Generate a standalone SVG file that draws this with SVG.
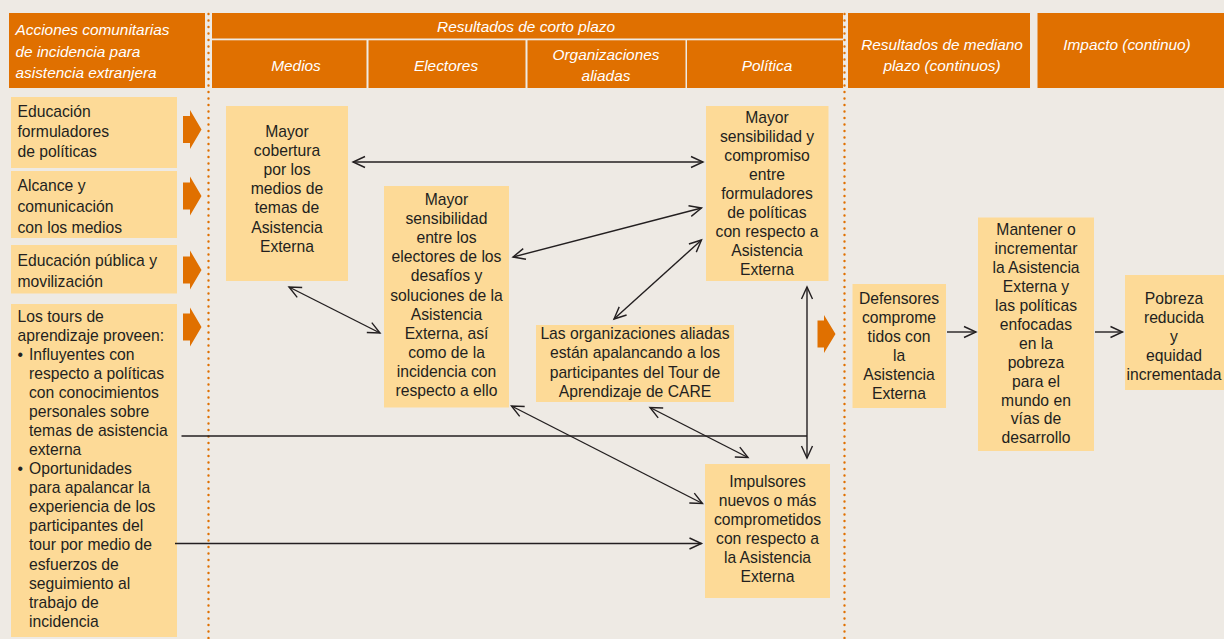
<svg xmlns="http://www.w3.org/2000/svg" width="1224" height="639" viewBox="0 0 1224 639">
<style>
.hdr{fill:#E07000}
.box{fill:#FDDA97}
.ht{font-family:"Liberation Sans",Arial,sans-serif;font-style:italic;font-size:15.4px;fill:#FFFFFF}
.t{font-family:"Liberation Sans",Arial,sans-serif;font-size:15.7px;fill:#231F20}
.c{text-anchor:middle}
.dot{stroke:#E07000;stroke-width:2.4;stroke-linecap:round;stroke-dasharray:0.1 6.4;fill:none}
.ln{stroke:#231F20;stroke-width:1.4;fill:none}
.ar{fill:#E07000}
</style>
<defs>
<marker id="ah" markerUnits="userSpaceOnUse" markerWidth="16" markerHeight="14" viewBox="-13 -7 16 14" refX="0" refY="0" orient="auto-start-reverse">
<path d="M-12,-5.5 L0,0 L-12,5.5" fill="none" stroke="#231F20" stroke-width="1.4"/>
</marker>
</defs>
<rect x="0" y="0" width="1224" height="639" fill="#EEEAE4"/>

<g id="headers">
<rect class="hdr" x="9" y="13" width="196" height="75"/>
<text class="ht"><tspan x="15.5" y="35">Acciones comunitarias</tspan><tspan x="15.5" y="56.7">de incidencia para</tspan><tspan x="15.5" y="78.3">asistencia extranjera</tspan></text>
<rect class="hdr" x="212" y="13" width="631" height="25.5"/>
<text class="ht c" x="526" y="32.3">Resultados de corto plazo</text>
<rect class="hdr" x="212" y="40.3" width="154.5" height="47.7"/>
<text class="ht c" x="296" y="71">Medios</text>
<rect class="hdr" x="368.5" y="40.3" width="157" height="47.7"/>
<text class="ht c" x="446" y="71">Electores</text>
<rect class="hdr" x="527.5" y="40.3" width="158" height="47.7"/>
<text class="ht c"><tspan x="606" y="60">Organizaciones</tspan><tspan x="606" y="81.3">aliadas</tspan></text>
<rect class="hdr" x="687" y="40.3" width="156" height="47.7"/>
<text class="ht c" x="767" y="71">Política</text>
<rect class="hdr" x="848" y="13" width="182" height="75"/>
<text class="ht c"><tspan x="942" y="50">Resultados de mediano</tspan><tspan x="942" y="71">plazo (continuos)</tspan></text>
<rect class="hdr" x="1037.5" y="13" width="186.5" height="75"/>
<text class="ht c" x="1127" y="50">Impacto (continuo)</text>
</g>

<g id="dividers">
<line class="dot" x1="208.5" y1="14" x2="208.5" y2="639"/>
<line class="dot" x1="844.5" y1="14" x2="844.5" y2="639"/>
</g>

<g id="left-actions">
<g id="n-educacion-formuladores">
<rect class="box" x="11" y="97" width="166" height="71"/>
<text class="t"><tspan x="17.5" y="117">Educación</tspan><tspan x="17.5" y="137">formuladores</tspan><tspan x="17.5" y="157">de políticas</tspan></text>
</g>
<g id="n-alcance">
<rect class="box" x="11" y="171" width="166" height="67"/>
<text class="t"><tspan x="17.5" y="191">Alcance y</tspan><tspan x="17.5" y="212">comunicación</tspan><tspan x="17.5" y="232.5">con los medios</tspan></text>
</g>
<g id="n-educacion-publica">
<rect class="box" x="11" y="245" width="166" height="48.5"/>
<text class="t"><tspan x="17.5" y="266">Educación pública y</tspan><tspan x="17.5" y="286.5">movilización</tspan></text>
</g>
<g id="n-tours">
<rect class="box" x="11" y="304" width="166" height="333"/>
<text class="t">
<tspan x="17.5" y="321.7">Los tours de</tspan>
<tspan x="17.5" y="340.8">aprendizaje proveen:</tspan>
<tspan x="17.5" y="359.8">•</tspan><tspan x="29" y="359.8">Influyentes con</tspan>
<tspan x="29" y="378.9">respecto a políticas</tspan>
<tspan x="29" y="397.9">con conocimientos</tspan>
<tspan x="29" y="417">personales sobre</tspan>
<tspan x="29" y="436">temas de asistencia</tspan>
<tspan x="29" y="455.1">externa</tspan>
<tspan x="17.5" y="474.2">•</tspan><tspan x="29" y="474.2">Oportunidades</tspan>
<tspan x="29" y="493.2">para apalancar la</tspan>
<tspan x="29" y="512.3">experiencia de los</tspan>
<tspan x="29" y="531.3">participantes del</tspan>
<tspan x="29" y="550.4">tour por medio de</tspan>
<tspan x="29" y="569.5">esfuerzos de</tspan>
<tspan x="29" y="588.5">seguimiento al</tspan>
<tspan x="29" y="607.6">trabajo de</tspan>
<tspan x="29" y="626.7">incidencia</tspan>
</text>
</g>
</g>

<g id="orange-arrows">
<polygon class="ar" points="183,116 190,116 190,110 201.5,129.5 190,149 190,143 183,143"/>
<polygon class="ar" points="183,182.5 190,182.5 190,176.5 201.5,196 190,215.5 190,209.5 183,209.5"/>
<polygon class="ar" points="183,256.5 190,256.5 190,250.5 201.5,270 190,289.5 190,283.5 183,283.5"/>
<polygon class="ar" points="183,313.5 190,313.5 190,307.5 201.5,327 190,346.5 190,340.5 183,340.5"/>
<polygon class="ar" points="817.5,320.5 824,320.5 824,315 835.5,334 824,353 824,347.5 817.5,347.5"/>
</g>

<g id="n-medios">
<rect class="box" x="226" y="106" width="122" height="175"/>
<text class="t c"><tspan x="287" y="137">Mayor</tspan><tspan x="287" y="156.1">cobertura</tspan><tspan x="287" y="175.2">por los</tspan><tspan x="287" y="194.3">medios de</tspan><tspan x="287" y="213.4">temas de</tspan><tspan x="287" y="232.5">Asistencia</tspan><tspan x="287" y="251.6">Externa</tspan></text>
</g>

<g id="n-electores">
<rect class="box" x="384" y="186" width="125" height="221.5"/>
<text class="t c"><tspan x="446.5" y="205">Mayor</tspan><tspan x="446.5" y="224.1">sensibilidad</tspan><tspan x="446.5" y="243.2">entre los</tspan><tspan x="446.5" y="262.3">electores de los</tspan><tspan x="446.5" y="281.4">desafíos y</tspan><tspan x="446.5" y="300.5">soluciones de la</tspan><tspan x="446.5" y="319.6">Asistencia</tspan><tspan x="446.5" y="338.7">Externa, así</tspan><tspan x="446.5" y="357.8">como de la</tspan><tspan x="446.5" y="376.9">incidencia con</tspan><tspan x="446.5" y="396">respecto a ello</tspan></text>
</g>

<g id="n-politica">
<rect class="box" x="706" y="106" width="122.5" height="175"/>
<text class="t c"><tspan x="767" y="122.7">Mayor</tspan><tspan x="767" y="141.7">sensibilidad y</tspan><tspan x="767" y="160.8">compromiso</tspan><tspan x="767" y="179.8">entre</tspan><tspan x="767" y="198.9">formuladores</tspan><tspan x="767" y="217.9">de políticas</tspan><tspan x="767" y="236.9">con respecto a</tspan><tspan x="767" y="256">Asistencia</tspan><tspan x="767" y="275">Externa</tspan></text>
</g>

<g id="n-organizaciones">
<rect class="box" x="536" y="325" width="198" height="77"/>
<text class="t c"><tspan x="635" y="339.3">Las organizaciones aliadas</tspan><tspan x="635" y="358.4">están apalancando a los</tspan><tspan x="635" y="377.5">participantes del Tour de</tspan><tspan x="635" y="396.6">Aprendizaje de CARE</tspan></text>
</g>

<g id="n-impulsores">
<rect class="box" x="705" y="464" width="125" height="134"/>
<text class="t c"><tspan x="767.5" y="487.3">Impulsores</tspan><tspan x="767.5" y="506.3">nuevos o más</tspan><tspan x="767.5" y="525.3">comprometidos</tspan><tspan x="767.5" y="544.3">con respecto a</tspan><tspan x="767.5" y="563.3">la Asistencia</tspan><tspan x="767.5" y="582.3">Externa</tspan></text>
</g>

<g id="n-defensores">
<rect class="box" x="852.5" y="284" width="93.5" height="124"/>
<text class="t c"><tspan x="899" y="304.3">Defensores</tspan><tspan x="899" y="323.2">comprome</tspan><tspan x="899" y="342.2">tidos con</tspan><tspan x="899" y="361.1">la</tspan><tspan x="899" y="380.1">Asistencia</tspan><tspan x="899" y="399">Externa</tspan></text>
</g>

<g id="n-mantener">
<rect class="box" x="978" y="217.5" width="116" height="233.5"/>
<text class="t c"><tspan x="1036" y="235">Mantener o</tspan><tspan x="1036" y="253.9">incrementar</tspan><tspan x="1036" y="272.9">la Asistencia</tspan><tspan x="1036" y="291.8">Externa y</tspan><tspan x="1036" y="310.8">las políticas</tspan><tspan x="1036" y="329.7">enfocadas</tspan><tspan x="1036" y="348.6">en la</tspan><tspan x="1036" y="367.6">pobreza</tspan><tspan x="1036" y="386.5">para el</tspan><tspan x="1036" y="405.5">mundo en</tspan><tspan x="1036" y="424.4">vías de</tspan><tspan x="1036" y="443.3">desarrollo</tspan></text>
</g>

<g id="n-pobreza">
<rect class="box" x="1125" y="275" width="99" height="115"/>
<text class="t c"><tspan x="1174" y="304.3">Pobreza</tspan><tspan x="1174" y="323.3">reducida</tspan><tspan x="1174" y="342.3">y</tspan><tspan x="1174" y="361.3">equidad</tspan><tspan x="1174" y="380.3">incrementada</tspan></text>
</g>

<g id="connectors">
<line class="ln" x1="353" y1="162" x2="703" y2="162" marker-start="url(#ah)" marker-end="url(#ah)"/>
<line class="ln" x1="513" y1="257" x2="701.5" y2="208" marker-start="url(#ah)" marker-end="url(#ah)"/>
<line class="ln" x1="614" y1="319" x2="701.5" y2="240" marker-start="url(#ah)" marker-end="url(#ah)"/>
<line class="ln" x1="289" y1="287" x2="380" y2="333" marker-start="url(#ah)" marker-end="url(#ah)"/>
<line class="ln" x1="181.5" y1="436" x2="807" y2="436"/>
<line class="ln" x1="807" y1="287" x2="807" y2="458" marker-start="url(#ah)" marker-end="url(#ah)"/>
<line class="ln" x1="511.5" y1="406" x2="702.5" y2="503.5" marker-start="url(#ah)" marker-end="url(#ah)"/>
<line class="ln" x1="650" y1="407.5" x2="748" y2="457.5" marker-start="url(#ah)" marker-end="url(#ah)"/>
<line class="ln" x1="175" y1="543.5" x2="701.5" y2="543.5" marker-end="url(#ah)"/>
<line class="ln" x1="947" y1="332" x2="976" y2="332" marker-end="url(#ah)"/>
<line class="ln" x1="1095" y1="332" x2="1122.5" y2="332" marker-end="url(#ah)"/>
</g>
</svg>
